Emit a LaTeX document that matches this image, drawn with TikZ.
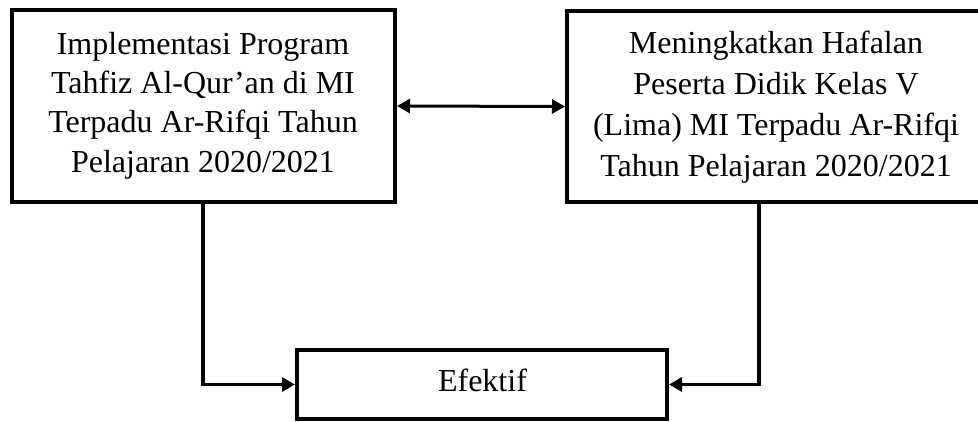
\documentclass[tikz,border=0pt]{standalone}
\usepackage{fontspec}
\setmainfont{Liberation Serif}
\usetikzlibrary{arrows.meta}
\begin{document}
\begin{tikzpicture}[x=1pt,y=-1pt,
  boxframe/.style={draw=black, line width=4pt, fill=white, inner sep=0pt},
  boxtext/.style={align=center, inner sep=0pt, anchor=base},
  conn/.style={line width=3.5pt, -{Triangle[length=13pt,width=14pt]}},
  biconn/.style={line width=3pt, {Triangle[length=13pt,width=14pt]}-{Triangle[length=13pt,width=14pt]}}
]
\useasboundingbox (0,0) rectangle (978,421);
\node[boxframe, minimum width=383pt, minimum height=192pt] (lbox) at (203.5,106) {};
\node[boxtext, font=\fontsize{32}{39.3}\selectfont] (ltext) at (203,172) {Implementasi Program\\Tahfiz Al-Qur’an di MI\\Terpadu Ar-Rifqi Tahun\\Pelajaran 2020/2021};
\node[boxframe, minimum width=418pt, minimum height=191pt] (rbox) at (776,106.5) {};
\node[boxtext, font=\fontsize{32}{41}\selectfont] (rtext) at (776,176.5) {Meningkatkan Hafalan\\Peserta Didik Kelas V\\(Lima) MI Terpadu Ar-Rifqi\\Tahun Pelajaran 2020/2021};
\node[boxframe, minimum width=370pt, minimum height=69pt] (eff) at (482,384.5) {};
\node[boxtext, font=\fontsize{32}{39}\selectfont] (efftext) at (482.5,391) {Efektif};
\draw[biconn] (lbox.east) -- (rbox.west);
\draw[conn] ([xshift=-0.5pt]lbox.south) |- (eff.west);
\draw[conn] ([xshift=-17pt]rbox.south) |- (eff.east);
\end{tikzpicture}
\end{document}
